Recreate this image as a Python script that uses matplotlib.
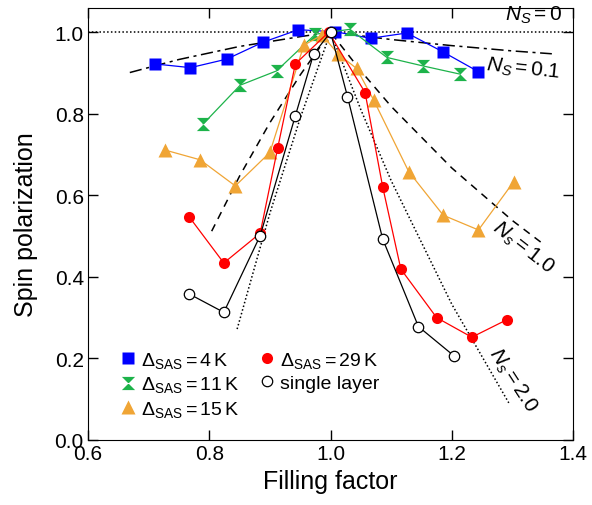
import numpy as np
import matplotlib
matplotlib.use("Agg")
import matplotlib.pyplot as plt
from matplotlib.path import Path

plt.rcParams['font.family'] = ['Liberation Sans', 'DejaVu Sans']
plt.rcParams['mathtext.fontset'] = 'custom'
plt.rcParams['mathtext.rm'] = 'Liberation Sans'
plt.rcParams['mathtext.it'] = 'Liberation Sans:italic'

x_4k = [0.711, 0.769, 0.829, 0.888, 0.947, 1.008, 1.066, 1.126, 1.185, 1.244]
y_4k = [0.922, 0.913, 0.934, 0.975, 1.006, 1.001, 0.985, 0.998, 0.952, 0.903]

x_11k = [0.790, 0.851, 0.911, 0.975, 1.032, 1.093, 1.153, 1.214]
y_11k = [0.775, 0.870, 0.905, 0.995, 1.007, 0.938, 0.917, 0.897]

x_15k = [0.727, 0.785, 0.843, 0.900, 0.956, 0.986, 1.013, 1.043, 1.071, 1.129, 1.186, 1.244, 1.302]
y_15k = [0.711, 0.687, 0.623, 0.705, 0.968, 0.993, 0.946, 0.911, 0.834, 0.658, 0.551, 0.515, 0.633]

x_29k = [0.767, 0.824, 0.884, 0.913, 0.942, 0.997, 1.057, 1.086, 1.116, 1.175, 1.233, 1.291]
y_29k = [0.547, 0.434, 0.507, 0.717, 0.922, 1.000, 0.852, 0.621, 0.419, 0.300, 0.252, 0.295]

x_single = [0.767, 0.824, 0.884, 0.942, 0.972, 1.000, 1.028, 1.086, 1.145, 1.203]
y_single = [0.358, 0.313, 0.501, 0.795, 0.946, 1.000, 0.842, 0.493, 0.278, 0.207]

# theory curves
x_ns0 = [0.6, 1.4]
y_ns0 = [1.0, 1.0]
x_ns01 = [0.669, 0.75, 0.85, 0.95, 1.0, 1.1, 1.2, 1.3, 1.365]
y_ns01 = [0.901, 0.933, 0.965, 0.989, 1.0, 0.982, 0.967, 0.954, 0.947]
x_ns1 = [0.804, 0.85, 0.9, 0.95, 1.0, 1.05, 1.1, 1.2, 1.3, 1.354]
y_ns1 = [0.512, 0.647, 0.778, 0.895, 1.0, 0.905, 0.818, 0.667, 0.538, 0.477]
x_ns2 = [0.846, 0.9, 0.95, 1.0, 1.05, 1.1, 1.2, 1.294]
y_ns2 = [0.272, 0.556, 0.789, 1.0, 0.810, 0.636, 0.333, 0.091]

hourglass = Path([(-1, 1), (1, 1), (-1, -1), (1, -1), (-1, 1)],
                 [Path.MOVETO, Path.LINETO, Path.LINETO, Path.LINETO, Path.CLOSEPOLY])

fig = plt.figure(figsize=(5.92, 5.06), dpi=100)
ax = fig.add_axes([0.1486, 0.1285, 0.8194, 0.8535])

ax.plot(x_ns0, y_ns0, color='k', ls=(0, (1, 1.5)), lw=1.1)
ax.plot(x_ns01, y_ns01, color='k', ls=(0, (8, 3, 2, 3)), lw=1.1)
ax.plot(x_ns1, y_ns1, color='k', ls=(0, (5, 4)), lw=1.1)
ax.plot(x_ns2, y_ns2, color='k', ls=(0, (1, 1.5)), lw=1.1)

blue = '#0000ff'
green = '#1db34a'
orange = '#f0a535'
red = '#ff0000'

ax.plot(x_4k, y_4k, color=blue, lw=0.9, marker='s', ms=8.5, mec='none', label=r'$\Delta_{\mathrm{SAS}} = 4\,\mathrm{K}$')
ax.plot(x_11k, y_11k, color=green, lw=0.9, marker=hourglass, ms=9.5, mec='none', label=r'$\Delta_{\mathrm{SAS}} = 11\,\mathrm{K}$')
ax.plot(x_15k, y_15k, color=orange, lw=0.9, marker='^', ms=9.5, mec='none', label=r'$\Delta_{\mathrm{SAS}} = 15\,\mathrm{K}$')
ax.plot(x_29k, y_29k, color=red, lw=0.9, marker='o', ms=8, mec='none', label=r'$\Delta_{\mathrm{SAS}} = 29\,\mathrm{K}$')
ax.plot(x_single, y_single, color='k', lw=0.9, marker='o', ms=7.5, mfc='white', mec='k', mew=0.9, label='single layer')

ax.text(1.335, 1.044, r'$N_S = 0$', fontsize=15, ha='center', va='center')
ax.text(1.318, 0.912, r'$N_S = 0.1$', fontsize=15, ha='center', va='center', rotation=-6)
ax.text(1.318, 0.473, r'$N_s = 1.0$', fontsize=15, ha='center', va='center', rotation=-38)
ax.text(1.30, 0.147, r'$N_s = 2.0$', fontsize=15, ha='center', va='center', rotation=-57)

ax.set_xlim(0.6, 1.4)
ax.set_ylim(0.0, 1.059)
ax.set_xticks([0.6, 0.8, 1.0, 1.2, 1.4])
ax.set_yticks([0.0, 0.2, 0.4, 0.6, 0.8, 1.0])
ax.set_xticklabels(['0.6', '0.8', '1.0', '1.2', '1.4'])
ax.set_yticklabels(['0.0', '0.2', '0.4', '0.6', '0.8', '1.0'])
ax.tick_params(direction='in', length=7, width=1, top=True, right=True, labelsize=15, pad=3)
ax.set_xlabel('Filling factor', fontsize=18, labelpad=4)
ax.set_ylabel('Spin polarization', fontsize=18, labelpad=12)

ax.legend(ncol=2, loc='lower left', bbox_to_anchor=(0.05, 0.03), frameon=False,
          fontsize=14, handlelength=0.8, handletextpad=0.3, columnspacing=1.0,
          labelspacing=0.25, borderaxespad=0)
leg = ax.get_legend()
for line in leg.get_lines():
    line.set_linestyle('none')

fig.savefig('out.png', dpi=100)
